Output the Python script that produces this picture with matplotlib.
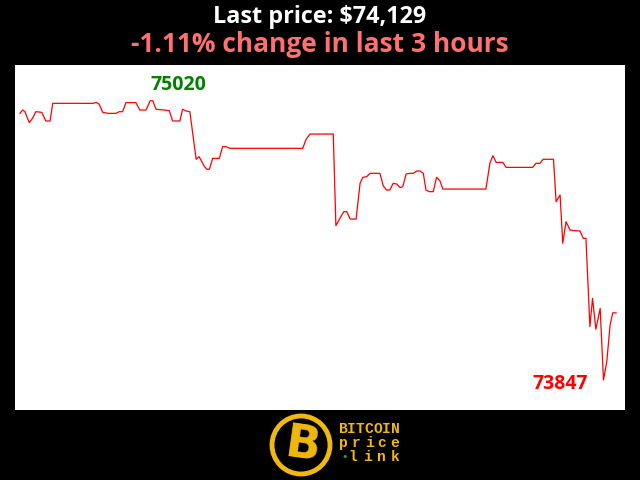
import matplotlib
matplotlib.use("Agg")
import matplotlib.pyplot as plt
import numpy as np
from matplotlib.patches import Circle

# minutes since start of the 3-hour window, and price at each vertex
minutes = [0, 0.8, 1.5, 2.8, 3.8, 4.8, 6.6, 7.8, 9.1, 9.9,
           22.1, 23.0, 23.9, 25.0, 26.7, 29.0, 30.0, 31.0, 32.0, 35.0,
           36.2, 38.1, 39.3, 40.1, 41.1, 43.6, 45.1, 46.1, 48.3, 49.1,
           50.1, 51.3, 53.2, 54.1, 55.6, 56.4, 57.2, 58.2, 60.2, 61.2,
           62.2, 63.4, 85.4, 86.4, 87.6, 94.6, 95.4, 96.6, 97.8, 98.7,
           99.7, 101.5, 102.7, 103.5, 104.7, 105.7, 108.7, 109.7, 110.7, 111.7,
           112.7, 113.8, 114.8, 115.6, 116.6, 117.6, 118.8, 119.8, 120.8, 121.8,
           122.6, 123.6, 124.8, 125.8, 126.8, 127.7, 140.7, 141.9, 142.8, 143.8,
           145.8, 146.8, 154.8, 155.8, 157.0, 158.0, 161.1, 161.9, 163.1, 163.9,
           164.9, 166.1, 167.6, 169.1, 170.1, 170.9, 172.1, 172.9, 173.9, 175.2,
           176.2, 177.2, 178.2, 179.0, 180.0]
prices = [74967, 74981, 74974, 74928, 74946, 74974, 74971, 74935, 74935, 75009,
          75009, 75013, 75006, 74971, 74967, 74967, 74974, 74974, 75012, 75012,
          74981, 74981, 75020, 75020, 74984, 74981, 74978, 74935, 74935, 74984,
          74977, 74974, 74774, 74785, 74746, 74732, 74732, 74778, 74778, 74827,
          74827, 74820, 74820, 74858, 74880, 74880, 74495, 74526, 74554, 74554,
          74523, 74523, 74673, 74698, 74701, 74715, 74715, 74662, 74645, 74645,
          74673, 74670, 74655, 74659, 74712, 74715, 74715, 74725, 74725, 74715,
          74645, 74638, 74638, 74698, 74684, 74649, 74649, 74757, 74789, 74761,
          74761, 74740, 74740, 74757, 74757, 74774, 74774, 74596, 74624, 74421,
          74512, 74477, 74474, 74473, 74442, 74442, 74071, 74190, 74060, 74148,
          73847, 73924, 74078, 74129, 74129]

last_price = 74129
pct_change = -1.11
hours = 3
logo_words = ["BITCOIN", "price", "link"]

fig = plt.figure(figsize=(6.4, 4.8), dpi=100, facecolor="black")

fig.text(0.5, 0.965, f"Last price: ${last_price:,}", color="white",
         fontsize=16.8, fontweight="bold", family="Open Sans",
         ha="center", va="center")
fig.text(0.5, 0.908, f"{pct_change:.2f}% change in last {hours} hours",
         color="#ff7070", fontsize=19, fontweight="bold", family="Open Sans",
         ha="center", va="center")

ax = fig.add_axes([15 / 640, 70 / 480, 610 / 640, 345 / 480])
ax.set_facecolor("white")
ax.plot(minutes, prices, color="red", linewidth=0.9)
ax.set_xlim(-1.5, 182.7)
ax.set_ylim(73721, 75170)
ax.set_xticks([])
ax.set_yticks([])
for s in ax.spines.values():
    s.set_visible(False)

# high / low annotations
hi = max(prices)
lo = min(prices)
hi_t = minutes[prices.index(hi)]
lo_t = minutes[prices.index(lo)]
ax.annotate(str(hi), (hi_t, hi), xytext=(0, 4), textcoords="offset points",
            color="green", fontsize=14, fontweight="bold", family="Open Sans",
            ha="left", va="bottom")
ax.annotate(str(lo), (lo_t, lo), xytext=(-11, -3), textcoords="offset points",
            color="red", fontsize=14, fontweight="bold", family="Open Sans",
            ha="right", va="center")

# logo
gold = "#f0b90b"
lax = fig.add_axes([260 / 640, 0, 160 / 640, 70 / 480])
lax.set_xlim(0, 160)
lax.set_ylim(0, 70)
lax.set_aspect("equal")
lax.axis("off")
lax.add_patch(Circle((41, 35), 29, facecolor="black", edgecolor=gold, linewidth=3.5))
lax.text(43, 34, "B", color=gold, fontsize=33, fontweight="bold",
         family="DejaVu Sans", ha="center", va="center", rotation=-8)
starts = [83, 83, 93]
for i, word in enumerate(logo_words):
    xs = np.linspace(starts[i], 135, len(word))
    for x, ch in zip(xs, word):
        lax.text(x, 51 - i * 14, ch, color=gold, fontsize=10.5, fontweight="bold",
                 family="Liberation Mono", ha="center", va="center")
lax.text(85, 23, "•", color="#22aa22", fontsize=8, ha="center", va="center")

fig.savefig("out.png", dpi=100, facecolor="black")
